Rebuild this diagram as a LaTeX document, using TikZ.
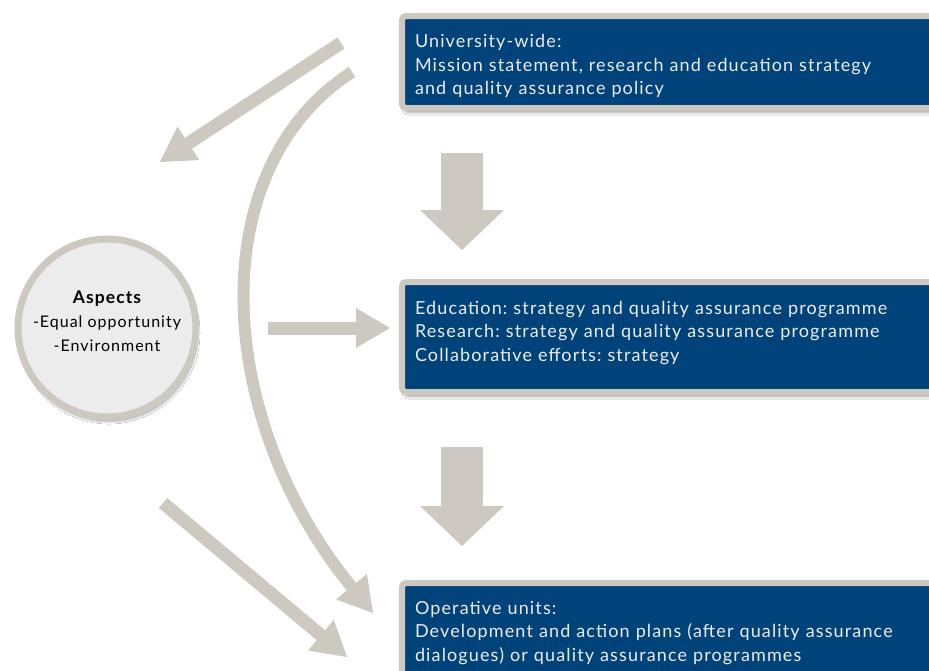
\documentclass[tikz,border=0pt]{standalone}
\usepackage{fontspec}
\setmainfont{Lato}[LetterSpace=6.3]
\usepackage{tikz}
\usetikzlibrary{calc,arrows.meta,shadows.blur}
\definecolor{uniblue}{RGB}{0,66,122}
\definecolor{framegray}{RGB}{205,201,192}
\definecolor{aspectfill}{RGB}{236,236,236}
\definecolor{boxtext}{RGB}{236,236,236}
\frenchspacing
\tikzset{
  level/.style={rectangle, rounded corners=4pt, draw=framegray, line width=6pt,
    fill=uniblue, text=boxtext, align=left, anchor=north west,
    text width=512pt, inner xsep=13pt, minimum width=538pt,
    font=\fontsize{18}{23.5}\selectfont,
    blur shadow={shadow xshift=2pt, shadow yshift=-5pt, shadow opacity=30}},
  flow/.style={draw=framegray, line width=13pt,
    -{Triangle[width=40pt, length=34pt, line width=0pt]}},
  bigflow/.style={draw=framegray, line width=42pt,
    -{Triangle[width=84pt, length=40pt, line width=0pt]}},
}

\begin{document}
\begin{tikzpicture}[x=1pt, y=-1pt,
  aspect/.style={circle, minimum size=178pt, draw=framegray, line width=7pt,
    fill=aspectfill, align=center, font=\fontsize{16}{24}\selectfont,
    blur shadow={shadow xshift=2pt, shadow yshift=-5pt, shadow opacity=30}}]
  \clip (0,0) rectangle (929,670);
  \fill[white] (0,0) rectangle (929,670);

  % the three levels
  \node[level, minimum height=92pt] (univ) at (399,13)
    {\rule{0pt}{22pt}University-wide:\\Mission statement, research and education strategy\\and quality assurance policy};
  \node[level, minimum height=110pt] (edu) at (399,279)
    {Education: strategy and quality assurance programme\\Research: strategy and quality assurance programme\\Collaborative efforts: strategy\\[-12pt]\mbox{}};
  \node[level, minimum height=100pt] (oper) at (399,580)
    {Operative units:\\Development and action plans (after quality assurance\\dialogues) or quality assurance programmes};

  \node[aspect] (aspects) at (107,328)
    {{\fontsize{17.5}{24}\selectfont\bfseries Aspects}\\-Equal opportunity\\-Environment\\[-10pt]\mbox{}};

  \coordinate (topstart) at (341,43);
  \coordinate (topend) at (160,162);
  \coordinate (arcstart) at (352,72);
  \coordinate (arcend) at (373,613);
  \coordinate (lowstart) at (163,503);
  \coordinate (lowend) at (347,657);

  % arrows
  \draw[flow] (topstart) -- (topend);
  \draw[flow, line width=12pt] (arcstart) .. controls (200,170) and (215,420) .. (arcend);
  \draw[flow] (lowstart) -- (lowend);
  \draw[flow, shorten <=68pt, shorten >=9pt] (aspects.east) -- (aspects.east -| edu.west);
  \draw[bigflow, shorten <=42pt, shorten >=29pt] ($(univ.south west)+(63,0)$) -- ($(edu.north west)+(63,0)$);
  \draw[bigflow, shorten <=52pt, shorten >=34pt] ($(edu.south west)+(63,0)$) -- ($(oper.north west)+(63,0)$);
\end{tikzpicture}
\end{document}
